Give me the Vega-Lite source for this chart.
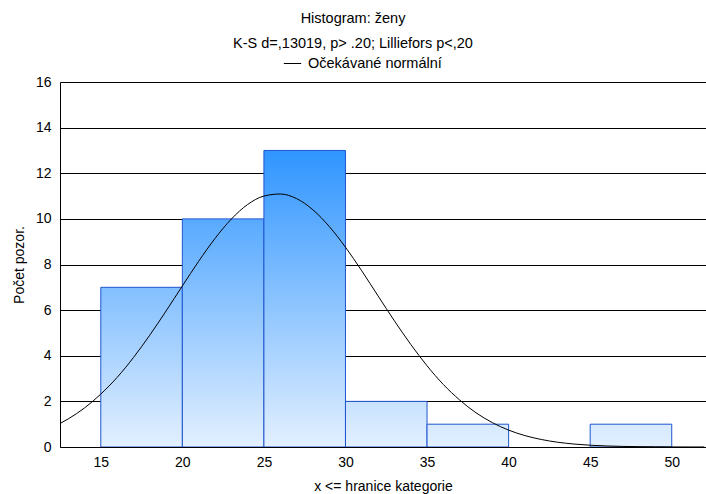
{
  "$schema": "https://vega.github.io/schema/vega-lite/v6.json",
  "width": 646,
  "height": 365,
  "autosize": {"type": "none"},
  "padding": {"left": 60, "top": 82, "right": 0, "bottom": 47},
  "background": "white",
  "config": {
    "font": "Liberation Sans",
    "view": {"stroke": null},
    "axis": {"labelFont": "Liberation Sans", "titleFont": "Liberation Sans", "labelColor": "black", "titleColor": "black", "titleFontWeight": "normal", "labelFontSize": 14, "titleFontSize": 14}
  },
  "title": {
    "text": "Histogram: ženy",
    "subtitle": "K-S d=,13019, p> .20; Lilliefors p<,20",
    "fontSize": 14.5,
    "fontWeight": "normal",
    "subtitleFontSize": 14.5,
    "color": "black",
    "subtitleColor": "black",
    "font": "Liberation Sans",
    "subtitleFont": "Liberation Sans",
    "anchor": "middle",
    "dx": -30,
    "offset": 3,
    "subtitlePadding": 10
  },
  "datasets": {
    "bins": [
      {"start": 15, "end": 20, "count": 7},
      {"start": 20, "end": 25, "count": 10},
      {"start": 25, "end": 30, "count": 13},
      {"start": 30, "end": 35, "count": 2},
      {"start": 35, "end": 40, "count": 1},
      {"start": 45, "end": 50, "count": 1}
    ],
    "curve": [
      {"x": 12.5, "y": 1.03}, {"x": 13, "y": 1.23}, {"x": 14, "y": 1.71}, {"x": 15, "y": 2.32},
      {"x": 16, "y": 3.05}, {"x": 17, "y": 3.92}, {"x": 18, "y": 4.90}, {"x": 19, "y": 5.96},
      {"x": 20, "y": 7.06}, {"x": 21, "y": 8.14}, {"x": 22, "y": 9.14}, {"x": 23, "y": 9.99},
      {"x": 24, "y": 10.63}, {"x": 25, "y": 11.00}, {"x": 26, "y": 11.09}, {"x": 27, "y": 10.89},
      {"x": 28, "y": 10.40}, {"x": 29, "y": 9.67}, {"x": 30, "y": 8.76}, {"x": 31, "y": 7.72},
      {"x": 32, "y": 6.62}, {"x": 33, "y": 5.53}, {"x": 34, "y": 4.50}, {"x": 35, "y": 3.56},
      {"x": 36, "y": 2.74}, {"x": 37, "y": 2.06}, {"x": 38, "y": 1.50}, {"x": 39, "y": 1.07},
      {"x": 40, "y": 0.74}, {"x": 41, "y": 0.50}, {"x": 42, "y": 0.33}, {"x": 43, "y": 0.21},
      {"x": 44, "y": 0.13}, {"x": 45, "y": 0.078}, {"x": 46, "y": 0.046}, {"x": 47, "y": 0.026},
      {"x": 48, "y": 0.015}, {"x": 49, "y": 0.008}, {"x": 50, "y": 0.004}, {"x": 51, "y": 0.002},
      {"x": 52, "y": 0.001}
    ]
  },
  "layer": [
    {
      "data": {"name": "bins"},
      "mark": {
        "type": "bar",
        "orient": "vertical",
        "stroke": "#1f55d0",
        "strokeWidth": 1,
        "fill": {"expr": "{gradient: 'linear', x1: 0, y1: 1, x2: 0, y2: 1 - 13 / datum.count, stops: [{offset: 0, color: '#e3f0ff'}, {offset: 1, color: '#2f95ff'}]}"}
      },
      "encoding": {
        "x": {
          "field": "start",
          "type": "quantitative",
          "scale": {"domain": [12.5, 52.1], "nice": false, "zero": false, "padding": 0},
          "axis": {
            "title": "x <= hranice kategorie",
            "values": [15, 20, 25, 30, 35, 40, 45, 50],
            "grid": false,
            "ticks": false,
            "domainColor": "black",
            "labelPadding": 8,
            "titlePadding": 10,
            "zindex": 1
          }
        },
        "x2": {"field": "end"},
        "y": {
          "field": "count",
          "type": "quantitative",
          "scale": {"domain": [0, 16], "nice": false, "padding": 0},
          "axis": {
            "title": "Počet pozor.",
            "values": [0, 2, 4, 6, 8, 10, 12, 14, 16],
            "grid": true,
            "gridColor": "black",
            "gridOpacity": 1,
            "ticks": false,
            "domainColor": "black",
            "labelPadding": 9,
            "titlePadding": 9
          }
        },
        "y2": {"datum": 0}
      }
    },
    {
      "data": {"name": "curve"},
      "mark": {"type": "line", "interpolate": "monotone", "strokeWidth": 1, "clip": true},
      "encoding": {
        "x": {"field": "x", "type": "quantitative"},
        "y": {"field": "y", "type": "quantitative"},
        "stroke": {
          "datum": "Očekávané normální",
          "type": "nominal",
          "scale": {"range": ["black"]},
          "legend": {
            "orient": "none",
            "legendX": 223,
            "legendY": -28,
            "title": null,
            "symbolType": "stroke",
            "symbolSize": 300,
            "symbolStrokeWidth": 1,
            "labelFontSize": 14.5,
            "labelFont": "Liberation Sans",
            "labelColor": "black",
            "padding": 0,
            "labelOffset": 6
          }
        }
      }
    }
  ]
}
